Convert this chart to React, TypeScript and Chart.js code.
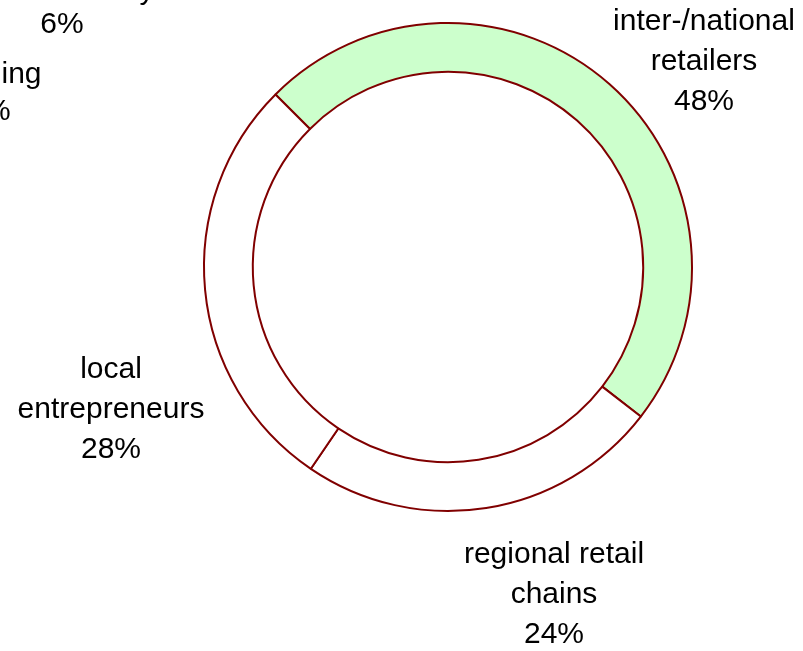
import React, { useEffect, useRef } from "react";
import { Chart, registerables } from "chart.js";

Chart.register(...registerables);

const categories = ["inter-/national retailers", "regional retail chains", "local entrepreneurs"];
const shares = [48, 24, 28];
const fills = ["#ccffcc", "#ffffff", "#ffffff"];
const labelLines = [
  ["inter-/national", "retailers", "48%"],
  ["regional retail", "chains", "24%"],
  ["local", "entrepreneurs", "28%"],
];
// neighbouring labels, partly cut off at the page edge
const extraTexts = ["direct delivery", "6%", "vending", "4%"];

// label anchors (centre of first line), relative to doughnut centre
const labelOffsets = [
  [256, -245],
  [106, 288],
  [-337, 103],
];
const extraOffsets = [
  [-386, -276],
  [-386, -242],
  [-459, -192],
  [-459, -155],
];

const FONT = "30px 'Liberation Sans', Arial, sans-serif";
const LINE_H = 40;

const labelPlugin = {
  id: "sliceLabels",
  afterDraw(chart: any) {
    const ctx = chart.ctx;
    const arc = chart.getDatasetMeta(0).data[0];
    if (!arc) return;
    const cx = arc.x;
    const cy = arc.y;
    ctx.save();
    ctx.font = FONT;
    ctx.fillStyle = "#000000";
    ctx.textAlign = "center";
    ctx.textBaseline = "middle";
    labelLines.forEach((lines, i) => {
      const off = labelOffsets[i];
      lines.forEach((t, j) => ctx.fillText(t, cx + off[0], cy + off[1] + j * LINE_H));
    });
    extraTexts.forEach((t, i) => ctx.fillText(t, cx + extraOffsets[i][0], cy + extraOffsets[i][1]));
    ctx.restore();
  },
};

export default function App() {
  const ref = useRef<HTMLCanvasElement>(null);
  useEffect(() => {
    document.body.style.margin = "0";
    const chart = new Chart(ref.current!, {
      type: "doughnut",
      data: {
        labels: categories,
        datasets: [
          {
            data: shares,
            backgroundColor: fills,
            borderColor: "#800000",
            borderWidth: 2,
            hoverOffset: 0,
            offset: 0,
          },
        ],
      },
      options: {
        responsive: false,
        animation: false,
        devicePixelRatio: 1,
        rotation: -45,
        cutout: "80%",
        layout: { padding: { left: 203, top: 22, right: 110, bottom: 139 } },
        plugins: { legend: { display: false }, tooltip: { enabled: false } },
        events: [],
      },
      plugins: [labelPlugin],
    });
    return () => chart.destroy();
  }, []);
  return (
    <div style={{ position: "absolute", left: 0, top: 0, width: 803, height: 651, background: "#fff" }}>
      <canvas ref={ref} width={803} height={651} />
    </div>
  );
}
